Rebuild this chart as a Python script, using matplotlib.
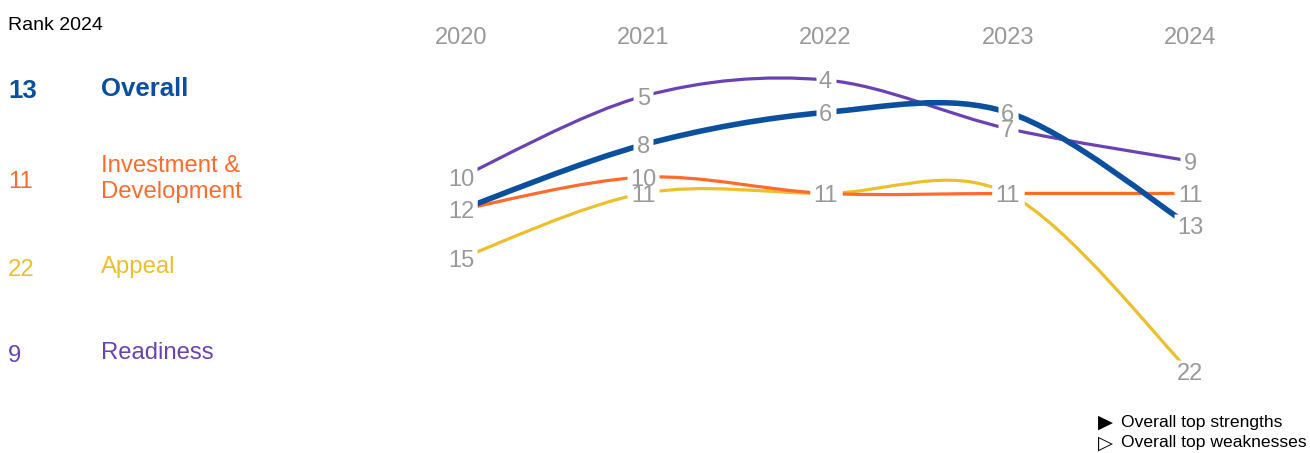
import numpy as np
import matplotlib
matplotlib.use('Agg')
import matplotlib.pyplot as plt
from matplotlib.path import Path
from matplotlib.patches import PathPatch

plt.rcParams['font.family'] = ['Liberation Sans', 'DejaVu Sans']

# data (ranks, lower is better)
years = [2020, 2021, 2022, 2023, 2024]
names = ['Overall', 'Investment &\nDevelopment', 'Appeal', 'Readiness']
overall = [12, 8, 6, 6, 13]
investment = [12, 10, 11, 11, 11]
appeal = [15, 11, 11, 11, 22]
readiness = [10, 5, 4, 7, 9]
series = [overall, investment, appeal, readiness]
colors = ['#0B4F9F', '#FF6B2C', '#EDBF2D', '#6B42B4']
widths = [4.0, 2.3, 2.3, 2.3]
label_grey = '#999999'

W, H = 1310, 453


def px(x, y):
    # pixel (from top-left) -> figure fraction
    return x / W, 1 - y / H


def smooth_path(xs, ys):
    # catmull-rom through the points, drawn as cubic bezier
    pts = np.column_stack([xs, ys]).astype(float)
    ext = np.vstack([pts[0], pts, pts[-1]])
    verts = [pts[0]]
    codes = [Path.MOVETO]
    for i in range(1, len(ext) - 2):
        p0, p1, p2, p3 = ext[i - 1], ext[i], ext[i + 1], ext[i + 2]
        c1 = p1 + (p2 - p0) / 6
        c2 = p2 - (p3 - p1) / 6
        verts += [c1, c2, p2]
        codes += [Path.CURVE4] * 3
    return Path(verts, codes)


fig = plt.figure(figsize=(W / 100, H / 100), dpi=100)
ax = fig.add_axes([0, 0, 1, 1])

# x: 2020 at px 461, step 182.25 ; y: rank 4 at px 80, 16.2 px per rank
xstep, ystep = 182.25, 16.2
ax.set_xlim(2020 - 461 / xstep, 2020 + (W - 461) / xstep)
ax.set_ylim(4 + (H - 80) / ystep, 4 - 80 / ystep)
ax.axis('off')

# lines, overall on top
for k in [3, 2, 1, 0]:
    patch = PathPatch(smooth_path(years, series[k]), fc='none', ec=colors[k],
                      lw=widths[k], capstyle='butt', zorder=2 + (3 - k) * 0.1)
    ax.add_patch(patch)

# white knock-out boxes behind the labels, cutting the lines
box_wide = [(-23, -17), (23, -17), (23, 17), (-23, 17)]
box_narrow = [(-14, -17), (14, -17), (14, 17), (-14, 17)]
for k in range(4):
    for yr, v in zip(years, series[k]):
        box = box_wide if v >= 10 else box_narrow
        size = 23 if v >= 10 else 17
        ax.plot([yr], [v], linestyle='none', marker=box, markersize=size,
                mfc='white', mec='none', zorder=4)

# point labels (one per spot when two series share a rank)
seen = set()
for k in [3, 2, 1, 0]:
    for yr, v in zip(years, series[k]):
        if (yr, v) in seen:
            continue
        seen.add((yr, v))
        ax.text(yr, v, str(v), fontsize=17, color=label_grey, ha='center',
                va='center_baseline', zorder=5)

# year header
for yr in years:
    ax.text(yr, 4 + (35 - 80) / ystep, str(yr), fontsize=17, color=label_grey,
            ha='center', va='center_baseline')

# left panel
fig.text(*px(8, 23), 'Rank 2024', fontsize=14, color='black', va='center_baseline')
row_y = [89, 179, 267, 353]
for k in range(4):
    bold = 'bold' if k == 0 else 'normal'
    size = 18.5 if k == 0 else 17.2
    fig.text(*px(8, row_y[k]), str(series[k][-1]), fontsize=size, fontweight=bold,
             color=colors[k], va='center_baseline')
    fig.text(*px(101, row_y[k]), names[k], fontsize=size, fontweight=bold,
             color=colors[k], va='center', linespacing=1.25)

# legend
fig.text(*px(1098, 422), '\u25B6', fontsize=14, color='black', va='center',
         family=['DejaVu Sans'])
fig.text(*px(1098, 443), '\u25B7', fontsize=14, color='black', va='center',
         family=['DejaVu Sans'])
fig.text(*px(1121, 422), 'Overall top strengths', fontsize=12.6, color='black', va='center')
fig.text(*px(1121, 443), 'Overall top weaknesses', fontsize=12.6, color='black', va='center')

fig.savefig('out.png', dpi=100)
